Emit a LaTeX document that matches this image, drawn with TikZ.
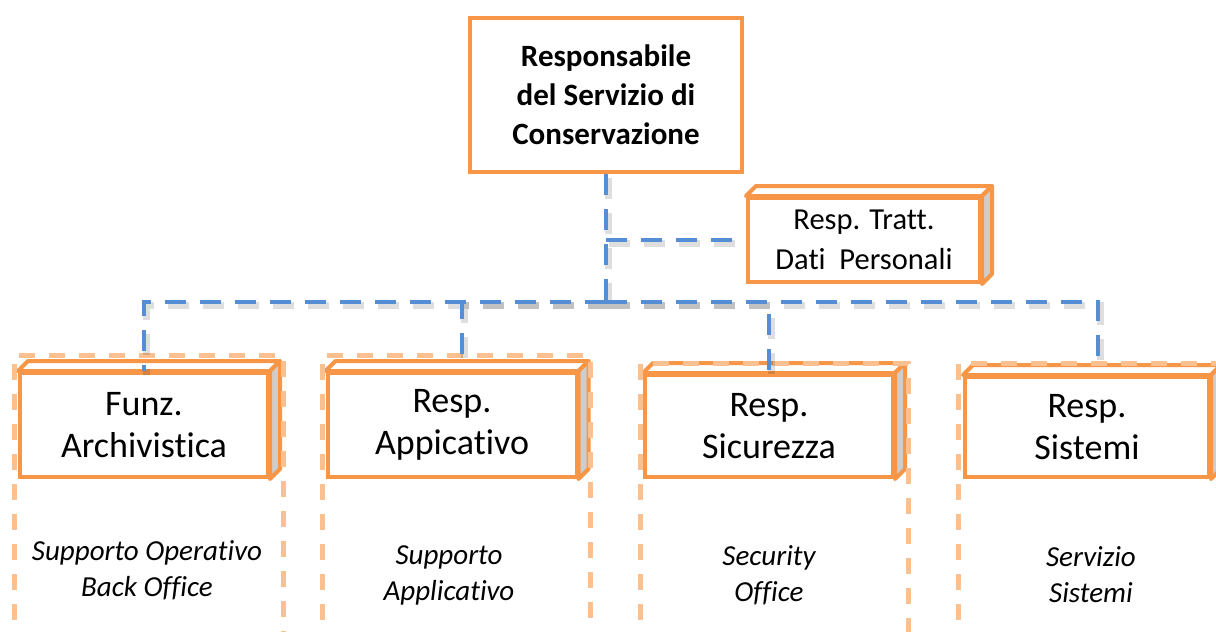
\documentclass[tikz,border=0pt]{standalone}
\usepackage{fontspec}
\setmainfont{Carlito}[Ligatures=NoCommon]
\definecolor{orgline}{RGB}{247,150,70}
\definecolor{lightorg}{RGB}{250,192,144}
\definecolor{bluelink}{RGB}{85,142,213}
\definecolor{sidegray}{RGB}{205,205,205}
\tikzset{
  orgbox/.style={draw=orgline, line width=4pt, fill=white, inner sep=0pt, align=center},
  frontbox/.style={orgbox, font=\fontsize{36}{42}\selectfont},
  colbox/.style={draw=lightorg, line width=5pt, dash pattern=on 16pt off 14pt},
  conn/.style={draw=bluelink, line width=4pt, dash pattern=on 21pt off 14pt},
  shadowline/.style={draw=black, opacity=0.13, line width=7pt, dash pattern=on 21pt off 14pt,
    transform canvas={xshift=2.5pt,yshift=-3.5pt}},
  lbl/.style={align=center, font=\fontsize{29}{36}\selectfont\itshape}
}
\newcommand{\cubefaces}[1]{%
  \draw[draw=orgline, line width=4pt, fill=white, line join=round]
    (#1.north west) -- ++(10,-10) -- ([shift={(10,-10)}]#1.north east) -- (#1.north east) -- cycle;
  \draw[draw=orgline, line width=4pt, fill=sidegray, line join=round]
    (#1.north east) -- ++(10,-10) -- ([shift={(10,-10)}]#1.south east) -- (#1.south east) -- cycle;
}
\newcommand{\linkpath}[1]{\draw[shadowline] #1; \draw[conn] #1;}
\begin{document}
\begin{tikzpicture}[x=1pt,y=-1pt]
\useasboundingbox (0,0) rectangle (1216,632);
\clip (0,0) rectangle (1216,632);
\fill[white] (0,0) rectangle (1216,632);

% top box
\node[orgbox, minimum width=272pt, minimum height=154pt,
      font=\fontsize{31}{39}\selectfont\bfseries] (top) at (606,95)
  {Responsabile\\del Servizio di\\Conservazione};

% Resp. Tratt. box
\node[orgbox, minimum width=232pt, minimum height=84pt,
      font=\fontsize{30.5}{40}\selectfont] (tratt) at (864,240)
  {Resp. Tratt.\\Dati~~Personali};
\cubefaces{tratt}

% bottom boxes
\node[frontbox, minimum width=248pt, minimum height=104pt] (funz) at (144,425) {Funz.\\Archivistica};
\cubefaces{funz}
\node[frontbox, minimum width=249pt, minimum height=104pt] (appl) at (452,425) {Resp.\\Appicativo};
\cubefaces{appl}
\node[frontbox, minimum width=248pt, minimum height=102pt] (sicu) at (769,426) {Resp.\\Sicurezza};
\cubefaces{sicu}
\node[frontbox, minimum width=244pt, minimum height=100pt] (sist) at (1087,427) {Resp.\\Sistemi};
\cubefaces{sist}

% dashed columns
\draw[colbox] (14,650) -- (14,355) -- (283,355) -- (283,650);
\draw[colbox] (322,650) -- (322,355) -- (590,355) -- (590,650);
\draw[colbox] (640,650) -- (640,363) -- (908,363) -- (908,650);
\draw[colbox] (958,650) -- (958,363) -- (1230,363);

% column labels
\node[lbl] (l1) at (147,570) {Supporto Operativo\\Back Office};
\node[lbl] (l2) at (449,575) {Supporto\\Applicativo};
\node[lbl] (l3) at (769,575) {Security\\ Office};
\node[lbl] (l4) at (1091,575) {Servizio\\ Sistemi};

% connectors
\coordinate (j) at (606,302);
\linkpath{(top.south) -- (j)}
\linkpath{(top.south |- tratt.west) -- (tratt.west)}
\linkpath{(j) -| (funz.north)}
\linkpath{(j) -| ([xshift=10pt,yshift=10pt]appl.north)}
\linkpath{(j) -| (sicu.north)}
\linkpath{(j) -| ([xshift=11pt,yshift=12pt]sist.north)}
\end{tikzpicture}
\end{document}
